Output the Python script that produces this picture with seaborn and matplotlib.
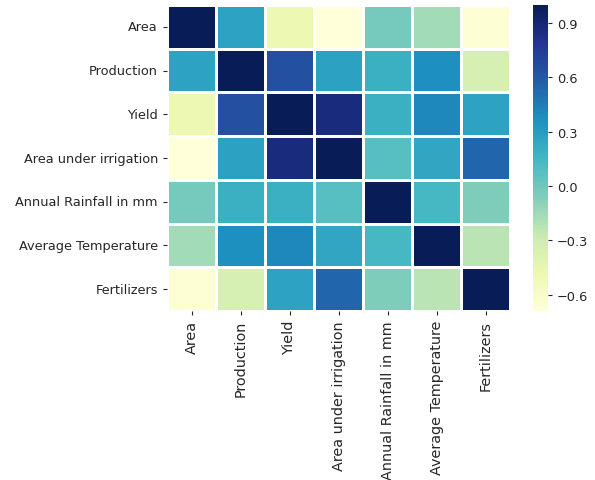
import numpy as np
import pandas as pd
import matplotlib
matplotlib.use("Agg")
import matplotlib.pyplot as plt
import seaborn as sns

features = ["Area", "Production", "Yield", "Area under irrigation",
            "Annual Rainfall in mm", "Average Temperature", "Fertilizers"]

# Pairwise correlations (upper triangle, row by row)
area = [1.00, 0.27, -0.48, -0.69, -0.02, -0.16, -0.66]
production = [0.65, 0.28, 0.19, 0.37, -0.35]
yield_ = [0.87, 0.19, 0.40, 0.27]
irrigation = [0.08, 0.25, 0.54]
rainfall = [0.14, -0.05]
temperature = [-0.23]

upper_rows = [area, production, yield_, irrigation, rainfall, temperature, []]

n = len(features)
corr = np.eye(n)
for i, row in enumerate(upper_rows):
    vals = row[1:] if i == 0 else row
    for k, v in enumerate(vals):
        j = i + 1 + k
        corr[i, j] = v
        corr[j, i] = v

corr_df = pd.DataFrame(corr, index=features, columns=features)

fig = plt.figure(figsize=(5.95, 4.81), dpi=100)
ax = fig.add_axes([0.2807, 0.3514, 0.5765, 0.636])
cax = fig.add_axes([0.8963, 0.3514, 0.0242, 0.636])

sns.heatmap(corr_df, cmap="YlGnBu", linewidths=1.0, linecolor="white",
            ax=ax, cbar_ax=cax, cbar_kws={"ticks": [-0.6, -0.3, 0.0, 0.3, 0.6, 0.9]})

ax.tick_params(axis="both", colors="#262626", length=3)
ax.tick_params(axis="x", labelsize=10.4)
ax.tick_params(axis="y", labelsize=9.3)
ax.set_xticklabels(features, rotation=90)
ax.set_yticklabels(features, rotation=0)
cax.tick_params(labelsize=9.3, colors="#262626", length=3)
cax.set_yticklabels(["\u22120.6", "\u22120.3", "0.0", "0.3", "0.6", "0.9"])
for spine in cax.spines.values():
    spine.set_visible(False)

fig.savefig("out.png", dpi=100)
